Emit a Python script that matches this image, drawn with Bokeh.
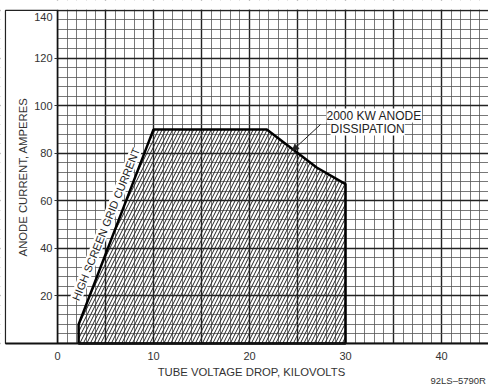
import math
from bokeh.plotting import figure
from bokeh.models import FixedTicker, Label, Arrow, NormalHead, Range1d
from bokeh.embed import file_html
from bokeh.resources import INLINE

# ---- data ----
volts = [2.2, 2.2, 10.0, 21.8, 24.4, 27.0, 30.0, 30.0]
amps = [0.0, 8.0, 90.0, 90.0, 82.0, 74.0, 67.0, 0.0]

x_tick_values = [0, 10, 20, 30, 40]
y_tick_values = [20, 40, 60, 80, 100, 120]
y_top_value = 140
x_major_grid = [0, 5, 10, 15, 20, 25, 30, 35, 40, 45]
x_minor_grid = list(range(0, 46))
y_major_grid = [0, 20, 40, 60, 80, 100, 120, 140]
y_minor_grid = list(range(0, 141, 4))

x_title = "TUBE VOLTAGE DROP, KILOVOLTS"
y_title = "ANODE CURRENT, AMPERES"
edge_label = "HIGH SCREEN GRID CURRENT"
curve_label_1 = "2000 KW ANODE"
curve_label_2 = "DISSIPATION"
figure_code = "92LS\u20135790R"

FONT = "Liberation Sans"
INK = "#222222"

# ranges: the frame fills the whole canvas, axes are fixed at 0
x_lo, x_hi = -5.9375, 44.896
y_lo, y_hi = -17.65, 144.18
x_box = -5.42          # left edge of the enclosing box
GRID_TOP = 140

p = figure(width=488, height=385, x_range=Range1d(x_lo, x_hi), y_range=Range1d(y_lo, y_hi),
           output_backend="svg", toolbar_location=None,
           min_border_left=0, min_border_right=0, min_border_top=0, min_border_bottom=0,
           background_fill_color="white", border_fill_color="white")
p.outline_line_color = None

# grid
p.xgrid.ticker = FixedTicker(ticks=x_major_grid, minor_ticks=x_minor_grid)
p.ygrid.ticker = FixedTicker(ticks=y_major_grid, minor_ticks=y_minor_grid)
p.xgrid.bounds = (0, x_hi)
p.ygrid.bounds = (0, GRID_TOP)
for g in (p.xgrid, p.ygrid):
    g.grid_line_color = "#222222"
    g.grid_line_width = 1.4
    g.grid_line_alpha = 1
    g.minor_grid_line_color = "#555555"
    g.minor_grid_line_width = 0.8
    g.minor_grid_line_alpha = 1

# white masks outside the ruled area (glyph level, above the grid)
p.quad(left=[x_lo], right=[0], bottom=[y_lo], top=[y_hi], fill_color="white", line_color=None)
p.quad(left=[x_lo], right=[x_hi], bottom=[y_lo], top=[0], fill_color="white", line_color=None)
p.quad(left=[x_lo], right=[x_hi], bottom=[GRID_TOP + 0.35], top=[y_hi], fill_color="white", line_color=None)
# enclosing box around the y-axis area
p.quad(left=[x_box], right=[0], bottom=[0], top=[GRID_TOP], fill_alpha=0,
       line_color="#222222", line_width=1.2)

# operating region
p.patch(volts, amps, fill_alpha=0, hatch_pattern="/", hatch_color="#222222",
        hatch_scale=7, hatch_weight=1, line_color="black", line_width=2.5)

# axes
p.xaxis.fixed_location = 0
p.yaxis.fixed_location = 0
p.xaxis.ticker = FixedTicker(ticks=x_tick_values)
p.yaxis.ticker = FixedTicker(ticks=y_tick_values)
p.xaxis.bounds = (x_box, x_hi)
p.yaxis.bounds = (0, GRID_TOP)
for ax in (p.xaxis[0], p.yaxis[0]):
    ax.minor_tick_line_color = None
    ax.major_label_text_font = FONT
    ax.major_label_text_font_size = "11px"
    ax.major_label_text_color = "#333333"
    ax.axis_line_color = "#111111"
    ax.major_tick_line_color = "#333333"
    ax.major_tick_in = 0
p.xaxis.major_tick_out = 0
p.xaxis.major_label_standoff = 8
p.xaxis.axis_line_width = 2
p.yaxis.major_tick_out = 3
p.yaxis.major_label_standoff = 2
p.yaxis.axis_line_width = 1.5
p.yaxis.axis_label = y_title
p.yaxis.axis_label_text_font = FONT
p.yaxis.axis_label_text_font_size = "11.3px"
p.yaxis.axis_label_text_font_style = "normal"
p.yaxis.axis_label_text_color = "#333333"
p.yaxis.axis_label_standoff = 2

# top tick value (sits just under the top rule in the reference)
p.add_layout(Label(x=-0.52, y=137.2, text=str(y_top_value), text_align="right",
                   text_baseline="middle", text_font=FONT, text_font_size="11px",
                   text_color="#333333"))

# annotations
p.add_layout(Label(x=5.05, y=50.2, text=edge_label, angle=math.radians(68),
                   text_align="center", text_baseline="middle", text_font=FONT,
                   text_font_size="11px", text_color=INK,
                   background_fill_color="white", background_fill_alpha=1))
p.add_layout(Label(x=28.02, y=95.84, text=curve_label_1, text_align="left",
                   text_baseline="middle", text_font=FONT, text_font_size="12px",
                   text_color=INK, background_fill_color="white", background_fill_alpha=1))
p.add_layout(Label(x=28.44, y=90.37, text=curve_label_2, text_align="left",
                   text_baseline="middle", text_font=FONT, text_font_size="12px",
                   text_color=INK, background_fill_color="white", background_fill_alpha=1))
p.add_layout(Arrow(x_start=27.40, y_start=92.06, x_end=24.48, y_end=81.13,
                   line_color="#222222", line_width=1,
                   end=NormalHead(size=6, fill_color="#222222", line_color="#222222")))
p.add_layout(Label(x=20.2, y=-12.06, text=x_title, text_align="center", text_baseline="middle",
                   text_font=FONT, text_font_size="11.3px", text_color="#333333"))
p.add_layout(Label(x=38.85, y=-15.55, text=figure_code, text_align="left", text_baseline="middle",
                   text_font=FONT, text_font_size="9.5px", text_color="#333333"))

open("out.html", "w").write(file_html(p, INLINE))
